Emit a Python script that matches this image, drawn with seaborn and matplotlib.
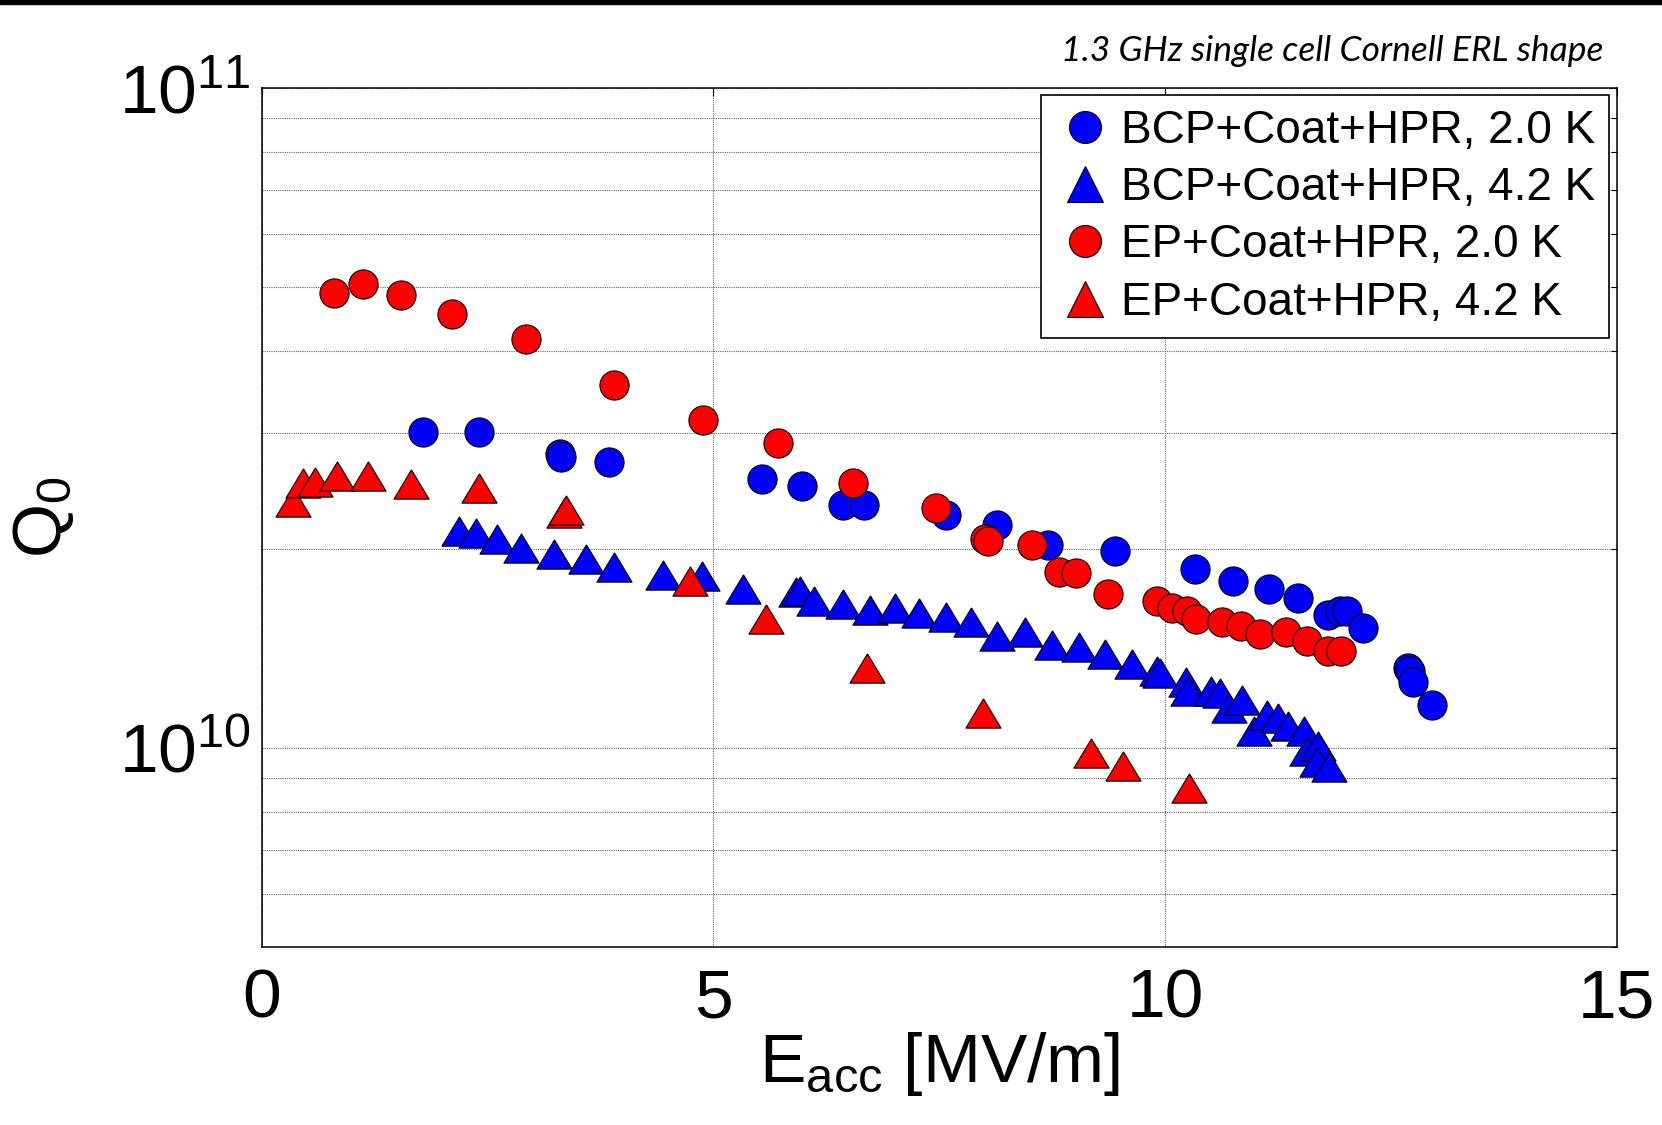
import numpy as np
import pandas as pd
import matplotlib
matplotlib.use("Agg")
import matplotlib.pyplot as plt
import seaborn as sns
from matplotlib import font_manager
from matplotlib.lines import Line2D
from matplotlib.patches import Rectangle
from matplotlib.ticker import LogLocator, NullFormatter, FixedLocator

# ---------------- data ----------------
series_labels = ["BCP+Coat+HPR, 2.0 K", "BCP+Coat+HPR, 4.2 K",
                 "EP+Coat+HPR, 2.0 K", "EP+Coat+HPR, 4.2 K"]
series_colors = ["#0000ff", "#0000ff", "#ff0000", "#ff0000"]

bcp20_e = [1.79, 2.40, 3.30, 3.31, 3.84, 5.54, 5.98, 6.44, 6.67, 7.58, 8.14,
           8.70, 9.45, 10.33, 10.75, 11.15, 11.47, 11.81, 11.94, 12.01, 12.19,
           12.69, 12.71, 12.75, 12.96]
bcp20_q = [3.01e10, 3.01e10, 2.79e10, 2.76e10, 2.71e10, 2.56e10, 2.49e10, 2.33e10,
           2.33e10, 2.25e10, 2.18e10, 2.03e10, 1.99e10, 1.87e10, 1.79e10, 1.74e10,
           1.69e10, 1.59e10, 1.61e10, 1.61e10, 1.52e10, 1.32e10, 1.31e10, 1.26e10,
           1.16e10]

bcp42_e = [2.18, 2.37, 2.60, 2.87, 3.24, 3.59, 3.90, 4.44, 4.87, 5.33, 5.92, 5.96,
           6.11, 6.44, 6.73, 7.01, 7.28, 7.57, 7.85, 8.14, 8.45, 8.75, 9.05, 9.34,
           9.63, 9.91, 9.94, 10.23, 10.26, 10.51, 10.61, 10.71, 10.85, 10.99, 11.13,
           11.25, 11.36, 11.54, 11.57, 11.69, 11.68, 11.82]
bcp42_q = [2.13e10, 2.12e10, 2.07e10, 2.01e10, 1.97e10, 1.93e10, 1.88e10, 1.83e10,
           1.82e10, 1.74e10, 1.72e10, 1.73e10, 1.67e10, 1.65e10, 1.62e10, 1.63e10,
           1.60e10, 1.58e10, 1.55e10, 1.48e10, 1.50e10, 1.43e10, 1.42e10, 1.39e10,
           1.34e10, 1.31e10, 1.30e10, 1.26e10, 1.22e10, 1.22e10, 1.21e10, 1.15e10,
           1.18e10, 1.06e10, 1.12e10, 1.11e10, 1.08e10, 1.06e10, 0.988e10, 1.008e10,
           0.951e10, 0.935e10]

ep20_e = [0.80, 1.12, 1.54, 2.11, 2.92, 3.90, 4.89, 5.72, 6.55, 7.46, 8.01, 8.04,
          8.53, 8.83, 9.01, 9.37, 9.91, 10.08, 10.24, 10.34, 10.63, 10.84, 11.05,
          11.34, 11.57, 11.80, 11.95]
ep20_q = [4.89e10, 5.04e10, 4.86e10, 4.55e10, 4.16e10, 3.55e10, 3.14e10, 2.90e10,
          2.52e10, 2.31e10, 2.07e10, 2.06e10, 2.03e10, 1.85e10, 1.84e10, 1.71e10,
          1.67e10, 1.63e10, 1.61e10, 1.57e10, 1.55e10, 1.53e10, 1.49e10, 1.50e10,
          1.45e10, 1.40e10, 1.40e10]

ep42_e = [0.35, 0.46, 0.59, 0.83, 1.18, 1.65, 2.40, 3.35, 3.37, 4.74, 5.58, 6.70,
          7.99, 9.18, 9.53, 10.27]
ep42_q = [2.36e10, 2.52e10, 2.53e10, 2.58e10, 2.58e10, 2.51e10, 2.48e10, 2.27e10,
          2.29e10, 1.79e10, 1.57e10, 1.32e10, 1.13e10, 0.981e10, 0.939e10, 0.870e10]

annotation = "1.3 GHz single cell Cornell ERL shape"
x_ticks = [0, 5, 10, 15]

# ---------------- fonts ----------------
def pick(fams, default="DejaVu Sans"):
    for f in fams:
        try:
            font_manager.findfont(font_manager.FontProperties(family=f),
                                  fallback_to_default=False)
            return f
        except Exception:
            pass
    return default

narrow = pick(["Liberation Sans Narrow", "Liberation Sans"])
regular = pick(["Liberation Sans", "DejaVu Sans"])
ital = pick(["Lato", "Open Sans", "DejaVu Sans"])

sns.set_theme(style="white")
plt.rcParams["font.family"] = [narrow, "DejaVu Sans"]
plt.rcParams["mathtext.default"] = "regular"
plt.rcParams["text.color"] = "black"
plt.rcParams["axes.labelcolor"] = "black"
plt.rcParams["xtick.color"] = "black"
plt.rcParams["ytick.color"] = "black"

# ---------------- figure ----------------
fig = plt.figure(figsize=(16.62, 11.25), dpi=100)
ax = fig.add_axes([0.1575, 0.1586, 0.8152, 0.7632])

frames = []
for lab, e, q in [(series_labels[0], bcp20_e, bcp20_q),
                  (series_labels[1], bcp42_e, bcp42_q),
                  (series_labels[2], ep20_e, ep20_q),
                  (series_labels[3], ep42_e, ep42_q)]:
    frames.append(pd.DataFrame({"E": e, "Q": q, "series": lab}))
df = pd.concat(frames, ignore_index=True)

tri = [(0, 1), (-1.2, -1), (1.2, -1), (0, 1)]
marker_for = {series_labels[0]: "o", series_labels[1]: tri,
              series_labels[2]: "o", series_labels[3]: tri}
size_for = {series_labels[0]: 440, series_labels[1]: 640,
            series_labels[2]: 440, series_labels[3]: 640}

for lab, col in zip(series_labels, series_colors):
    sub = df[df["series"] == lab]
    sns.scatterplot(data=sub, x="E", y="Q", ax=ax, color=col,
                    marker=marker_for[lab], s=size_for[lab],
                    edgecolor="black", linewidth=0.8, legend=False, zorder=3)

ax.set_yscale("log")
ax.set_xlim(0, 15)
ax.set_ylim(5e9, 1e11)
ax.xaxis.set_major_locator(FixedLocator(x_ticks))
ax.yaxis.set_major_locator(LogLocator(base=10))
ax.yaxis.set_minor_locator(LogLocator(base=10, subs=np.arange(2, 10)))
ax.yaxis.set_minor_formatter(NullFormatter())

ax.grid(True, which="both", axis="y", linestyle=(0, (1, 1)), color="0.4", linewidth=0.8, zorder=0)
ax.grid(True, which="major", axis="x", linestyle=(0, (1, 1)), color="0.4", linewidth=0.8, zorder=0)
ax.set_axisbelow(True)

for sp in ax.spines.values():
    sp.set_visible(True)
    sp.set_color("black")
    sp.set_linewidth(1.1)

ax.tick_params(axis="both", which="both", direction="in", top=True, right=True,
               colors="black", labelcolor="black", labelsize=50)
ax.tick_params(axis="both", which="major", length=6, width=0.8)
ax.tick_params(axis="y", which="minor", length=4, width=0.8)
ax.tick_params(axis="x", which="major", pad=15)
ax.tick_params(axis="y", which="major", pad=8)

ax.set_xlabel(r"E$_{acc}$ [MV/m]", fontsize=50, color="black")
ax.set_ylabel(r"Q$_0$", fontsize=50, color="black")
ax.xaxis.set_label_coords(0.5, -0.097)
ax.yaxis.set_label_coords(-0.137, 0.5)

handles = []
for lab, col in zip(series_labels, series_colors):
    mk = "o" if marker_for[lab] == "o" else "^"
    ms = 23 if mk == "o" else 26
    handles.append(Line2D([], [], linestyle="none", marker=mk, markersize=ms,
                          markerfacecolor=col, markeredgecolor="black",
                          markeredgewidth=0.8, label=lab))
leg = ax.legend(handles=handles, loc="upper right", bbox_to_anchor=(0.9944, 0.9918),
                borderaxespad=0, frameon=True, fancybox=False, framealpha=1,
                edgecolor="black", prop={"family": regular, "size": 33},
                handlelength=1.33, handletextpad=0.12, borderpad=0.3,
                labelspacing=0.29)
leg.get_frame().set_linewidth(1.2)
for t in leg.get_texts():
    t.set_color("black")

fig.text(0.965, 0.955, annotation, ha="right", va="center", color="black",
         fontsize=25.5, style="italic", family=[ital, "DejaVu Sans"])

fig.add_artist(Rectangle((0, 1 - 4 / 1125), 1, 4 / 1125, transform=fig.transFigure,
                         color="black", zorder=10))

fig.savefig("out.png", dpi=100, facecolor="white")
